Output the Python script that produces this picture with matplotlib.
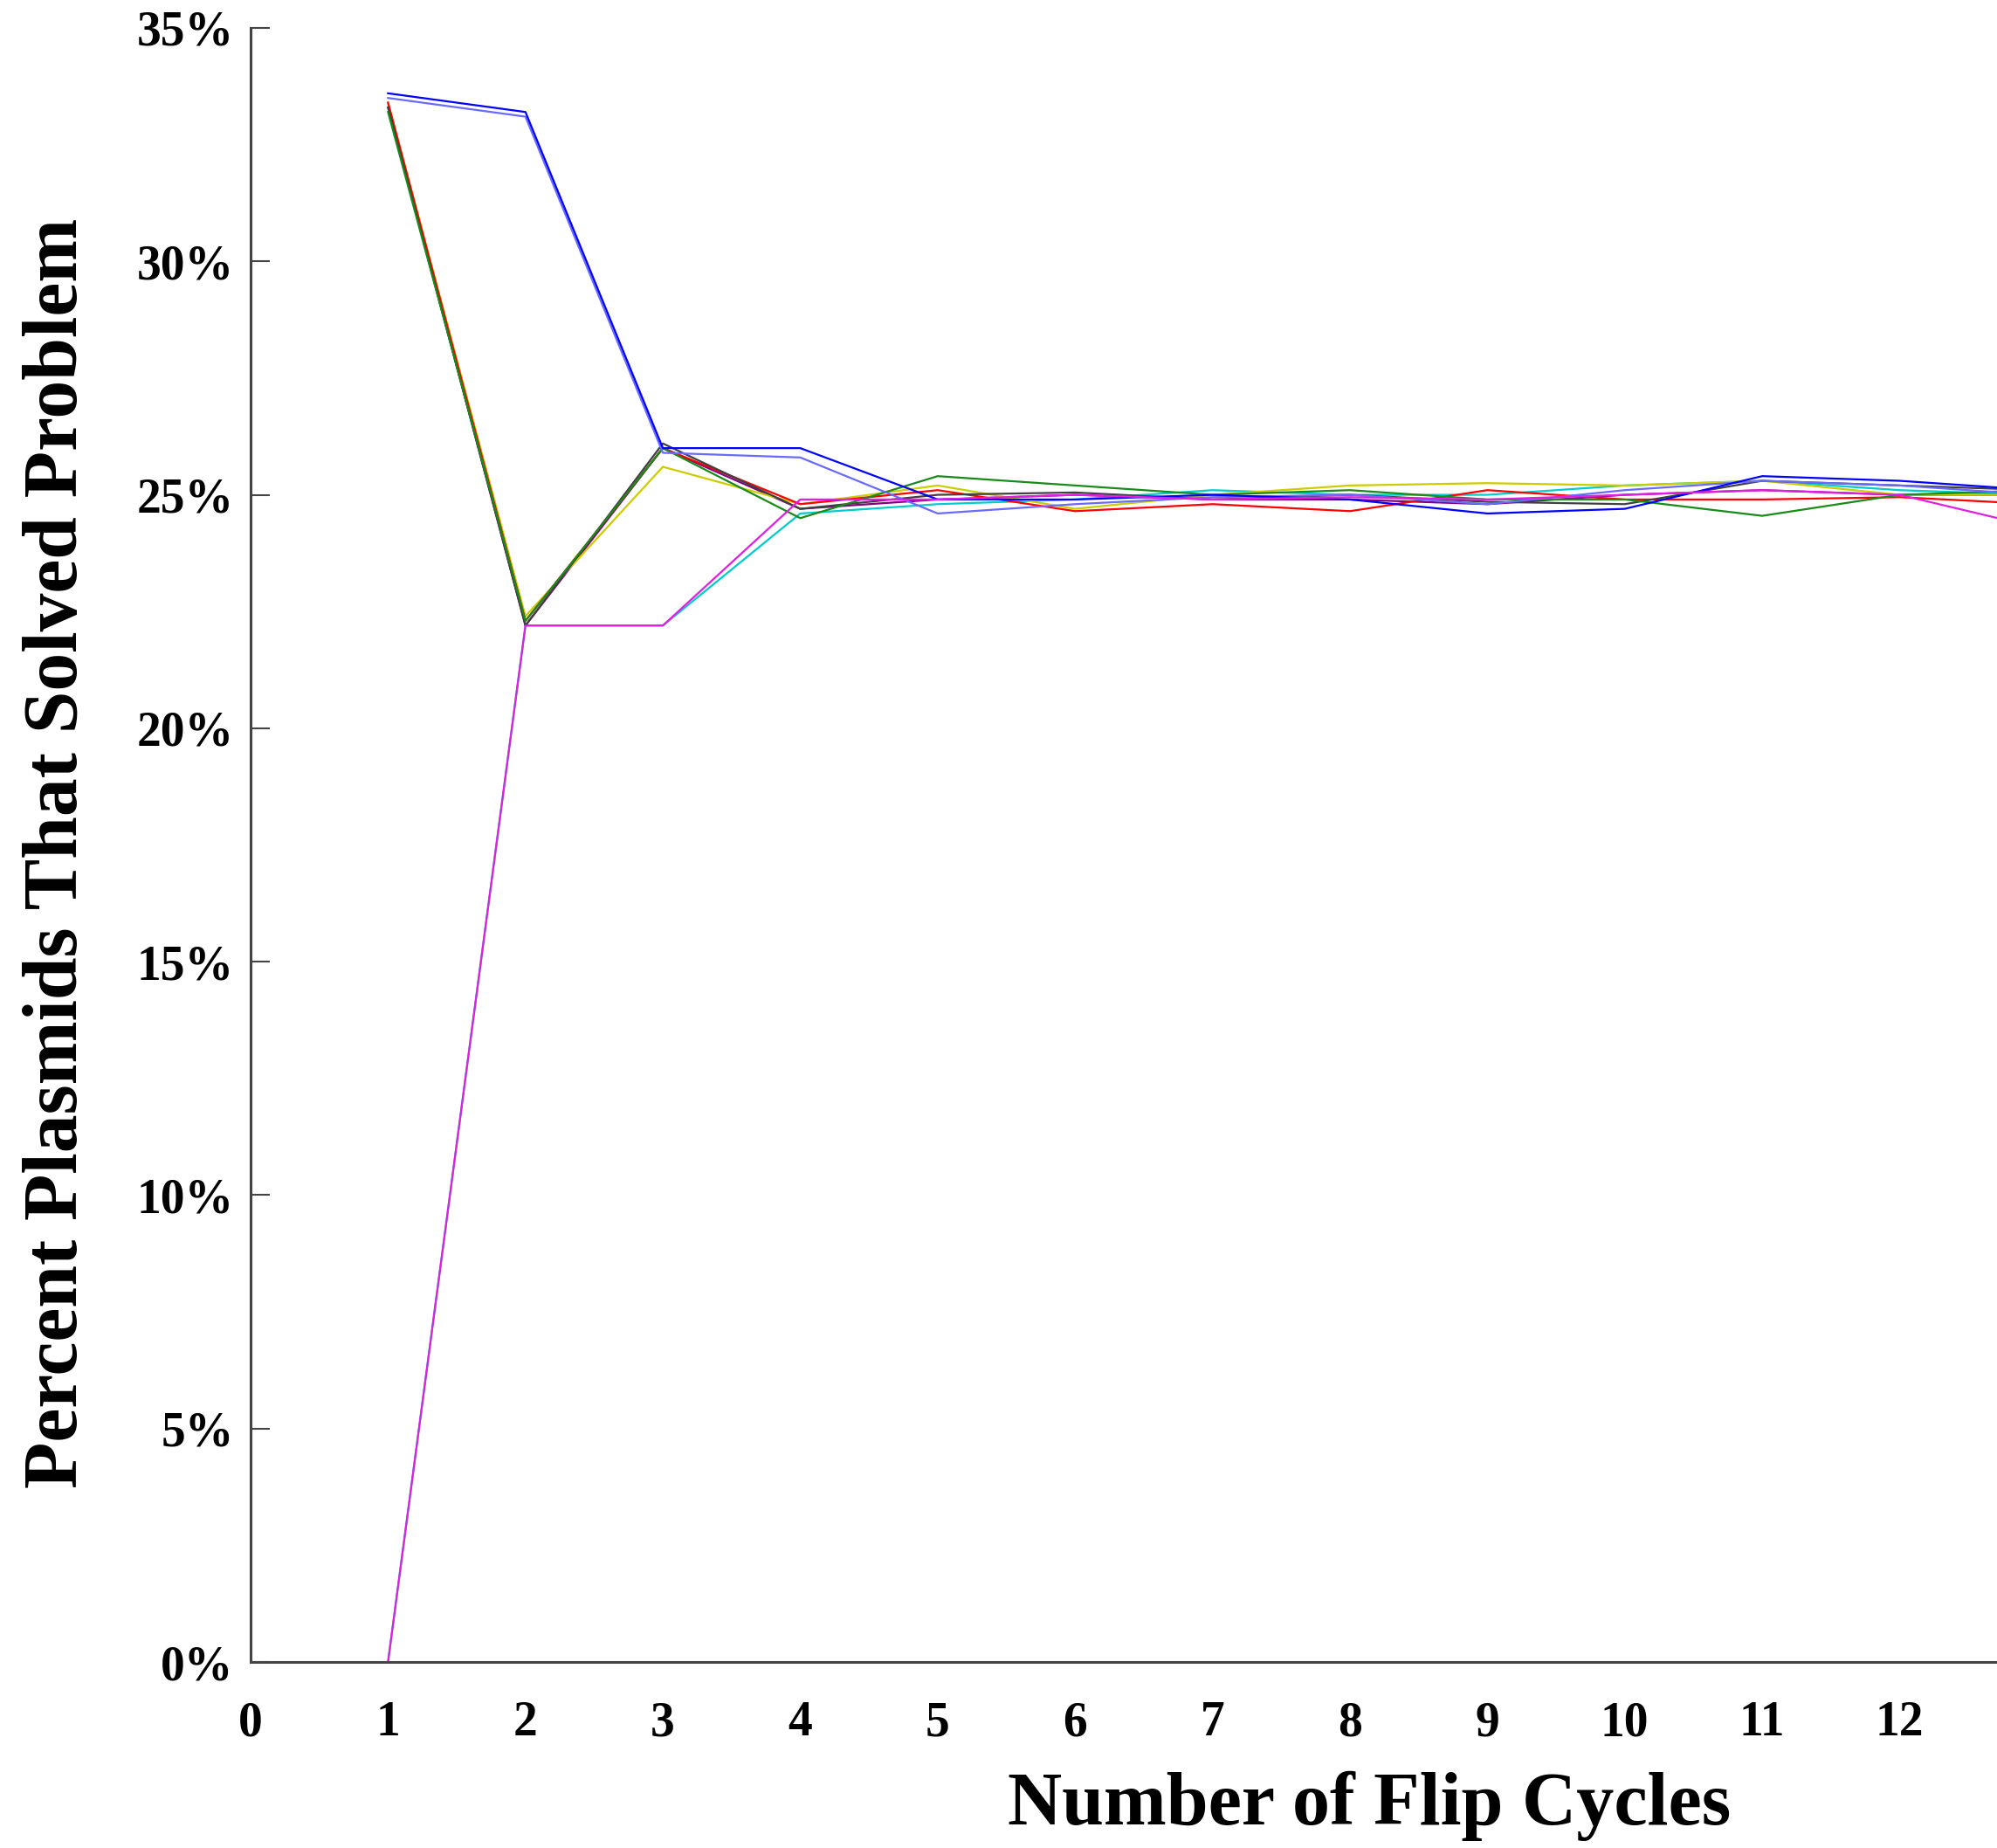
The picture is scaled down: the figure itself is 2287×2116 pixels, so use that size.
import matplotlib
matplotlib.use("Agg")
import matplotlib.pyplot as plt
from matplotlib.ticker import FuncFormatter

# flip cycles
cycles = list(range(1, 14))
xtick_labels = [str(i) for i in range(0, 13)]

# percent of plasmids that solved the problem, one run per colour
run_blue = [33.6, 33.2, 26.0, 26.0, 24.9, 24.9, 25.0, 24.9, 24.6, 24.7, 25.4, 25.3, 25.1]
run_lightblue = [33.5, 33.1, 25.9, 25.8, 24.6, 24.8, 24.95, 25.0, 24.8, 25.1, 25.3, 25.2, 25.0]
run_green = [33.2, 22.3, 26.0, 24.5, 25.4, 25.2, 25.0, 25.1, 24.9, 24.9, 24.55, 25.0, 25.1]
run_yellow = [33.4, 22.4, 25.6, 24.8, 25.2, 24.7, 25.0, 25.2, 25.25, 25.2, 25.3, 25.0, 25.0]
run_black = [33.3, 22.2, 26.1, 24.7, 25.0, 25.05, 24.9, 25.0, 24.85, 24.8, 25.3, 25.2, 25.1]
run_red = [33.4, 22.3, 26.0, 24.8, 25.1, 24.65, 24.8, 24.65, 25.1, 24.9, 24.9, 24.95, 24.8]
run_purple = [33.3, 22.2, 26.0, 24.7, 24.9, 25.0, 24.9, 24.9, 24.8, 25.0, 25.1, 25.0, 25.0]
run_cyan = [0.0, 22.2, 22.2, 24.6, 24.8, 24.9, 25.1, 25.0, 25.0, 25.2, 25.3, 25.1, 25.0]
run_magenta = [0.0, 22.2, 22.2, 24.9, 24.9, 25.0, 24.9, 24.95, 24.9, 25.0, 25.1, 25.0, 24.3]

runs = [
    (run_cyan, "#00cccc"),
    (run_purple, "#800080"),
    (run_yellow, "#cccc00"),
    (run_red, "#ff0000"),
    (run_black, "#404040"),
    (run_green, "#1a8a1a"),
    (run_lightblue, "#6a6aff"),
    (run_blue, "#0000ff"),
    (run_magenta, "#e020e0"),
]

plt.rcParams["font.family"] = ["Liberation Serif", "DejaVu Serif"]
plt.rcParams["font.weight"] = "bold"

fig = plt.figure(figsize=(22.87, 21.16), dpi=100)
# axes run off the right edge, the original picture is cropped there
ax = fig.add_axes([287 / 2287, 213 / 2116, 2518 / 2287, 1871 / 2116])

for vals, col in runs:
    ax.plot(cycles, vals, color=col, lw=1.6)

ax.set_xlim(0, 16)
ax.set_ylim(0, 35)

ax.spines["top"].set_visible(False)
ax.spines["right"].set_visible(False)
for s in ["left", "bottom"]:
    ax.spines[s].set_linewidth(2.2)
    ax.spines[s].set_color("#444444")

ax.set_yticks(range(0, 36, 5))
ax.yaxis.set_major_formatter(FuncFormatter(lambda v, p: f"{int(v)}%"))
ax.tick_params(axis="y", direction="in", length=16, width=1.5, color="#444444",
               labelsize=40, pad=14)

# labels on every cycle, tick marks only on the even ones
ax.set_xticks(range(0, 13), xtick_labels)
ax.tick_params(axis="x", which="major", length=0, labelsize=40, pad=32)
ax.set_xticks(range(2, 17, 2), minor=True)
ax.tick_params(axis="x", which="minor", direction="in", length=21, width=1.5,
               color="#444444")

ax.set_xlabel("Number of Flip Cycles", fontsize=62, fontweight="bold", va="center")
ax.xaxis.set_label_coords((1568 - 287) / 2518, -(2068 - 1903) / 1871)
ax.set_ylabel("Percent Plasmids That Solved Problem", fontsize=63,
              fontweight="bold", va="center")
ax.yaxis.set_label_coords(-(287 - 66) / 2518, (1903 - 977) / 1871)

fig.savefig("out.png", dpi=100)
